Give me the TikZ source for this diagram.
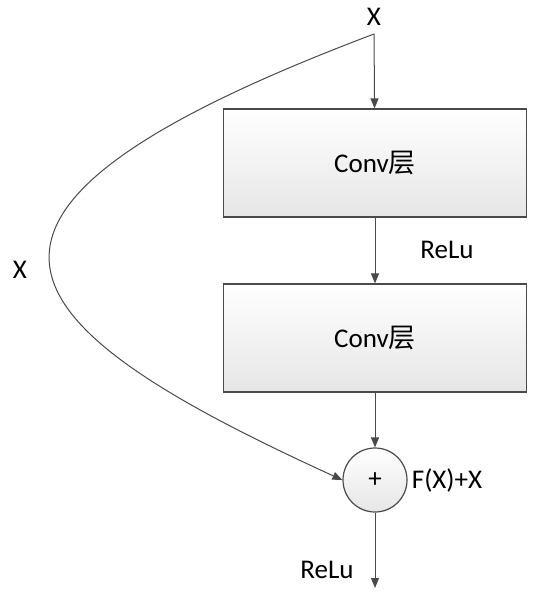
\documentclass[tikz,border=0pt]{standalone}
\usepackage{fontspec}
\setmainfont{Carlito}
\newfontfamily\cjk{Noto Sans CJK SC}
\usetikzlibrary{arrows.meta,shapes.geometric}
\definecolor{edgegray}{HTML}{4A4A4A}
\definecolor{fillgray}{HTML}{E6E6E6}
\begin{document}
\begin{tikzpicture}[x=0.5pt, y=-0.5pt,
  every node/.style={font=\fontsize{13.5}{16}\selectfont},
  layerbox/.style={draw=edgegray, line width=0.6pt, rectangle, minimum width=151.5pt, minimum height=54pt, top color=white, bottom color=fillgray},
  sumnode/.style={draw=edgegray, line width=0.6pt, circle, minimum size=32pt, inner sep=0pt, top color=white, bottom color=fillgray},
  flow/.style={draw=edgegray, line width=0.5pt, -{Triangle[length=5pt,width=4pt]}}]
\useasboundingbox (0,0) rectangle (553,609);
\node (xin) at (374,17) {X};
\coordinate (split) at (374,34);
\node[layerbox] (conv1) at (375,163) {Conv{\cjk 层}};
\node[layerbox] (conv2) at (375,338) {Conv{\cjk 层}};
\node[sumnode] (sum) at (375,480) {+};
\coordinate (out) at (375,588);
\node (relu1) at (447,250) {ReLu};
\node (relu2) at (327,570) {ReLu};
\node (sumlabel) at (447,480) {F(X)+X};
\node (skiplabel) at (20,270) {X};
\draw[flow] (split) -- (conv1);
\draw[flow] (conv1) -- (conv2);
\draw[flow] (conv2) -- (sum);
\draw[flow] (sum) -- (out);
\draw[flow] (split) .. controls (-100,213) and (-4,322) .. (sum.west);
\end{tikzpicture}
\end{document}
